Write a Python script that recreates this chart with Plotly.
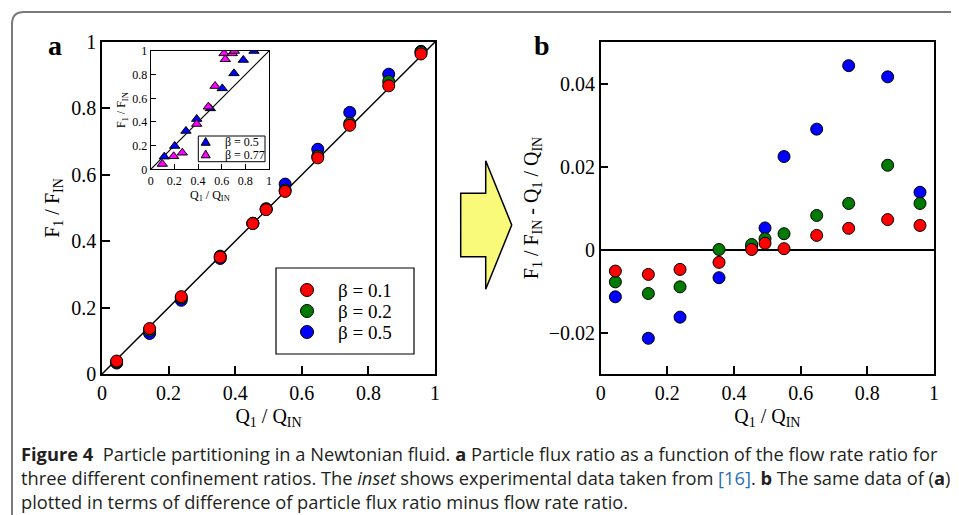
import plotly.graph_objects as go

# The page body has an 8 px default margin, so the figure is sized and placed to fill the window.
OFF = 8
FW, FH = 959 - OFF, 515 - OFF

# ---------------- data ----------------
q_ratio = [0.044, 0.143, 0.238, 0.355, 0.453, 0.493, 0.55, 0.648, 0.744, 0.861, 0.958]

# panel a : particle flux ratio F1/FIN
flux_b01 = [0.039, 0.137, 0.233, 0.352, 0.453, 0.495, 0.550, 0.651, 0.749, 0.868, 0.964]
flux_b02 = [0.036, 0.132, 0.229, 0.355, 0.454, 0.496, 0.554, 0.656, 0.755, 0.881, 0.969]
flux_b05 = [0.033, 0.122, 0.222, 0.348, 0.454, 0.498, 0.572, 0.677, 0.788, 0.903, 0.972]

# panel b : F1/FIN - Q1/QIN
diff_b01 = [-0.0052, -0.0060, -0.0048, -0.0031, 0.0000, 0.0015, 0.0002, 0.0034, 0.0051, 0.0072, 0.0058]
diff_b02 = [-0.0078, -0.0106, -0.0090, 0.0000, 0.0012, 0.0026, 0.0038, 0.0082, 0.0111, 0.0203, 0.0111]
diff_b05 = [-0.0114, -0.0214, -0.0163, -0.0068, 0.0008, 0.0052, 0.0224, 0.0290, 0.0443, 0.0416, 0.0138]

# inset : experimental data
inset_q_05 = [0.115, 0.203, 0.298, 0.389, 0.504, 0.605, 0.704, 0.783, 0.873]
inset_f_05 = [0.107, 0.197, 0.324, 0.425, 0.515, 0.684, 0.811, 0.924, 1.000]
inset_q_077 = [0.098, 0.194, 0.267, 0.389, 0.487, 0.544, 0.620, 0.631, 0.690, 0.707]
inset_f_077 = [0.045, 0.110, 0.140, 0.383, 0.529, 0.704, 0.980, 0.930, 0.980, 1.000]

diag = [0, 1]

ticks_unit = [0, 0.2, 0.4, 0.6, 0.8, 1]
ticks_unit_text = ["0", "0.2", "0.4", "0.6", "0.8", "1"]
ticks_diff = [-0.02, 0, 0.02, 0.04]
ticks_diff_text = ["\u22120.02", "0", "0.02", "0.04"]

names = ["\u03b2 = 0.5", "\u03b2 = 0.2", "\u03b2 = 0.1"]
colors = ["#0000FF", "#007A00", "#FF0000"]
flux_series = [flux_b05, flux_b02, flux_b01]
diff_series = [diff_b05, diff_b02, diff_b01]

inset_names = ["\u03b2 = 0.5", "\u03b2 = 0.77"]
inset_colors = ["#0000FF", "#FF00FF"]

SERIF = "Liberation Serif, Times New Roman, serif"


def fx(p):
    return (p - OFF) / FW


def fy(p):
    return 1 - (p - OFF) / FH


fig = go.Figure()

# ---------------- panel a ----------------
fig.add_trace(go.Scatter(x=diag, y=diag, mode="lines", line=dict(color="black", width=1.5),
                         showlegend=False, hoverinfo="skip", xaxis="x", yaxis="y"))
for nm, c, ys in zip(names, colors, flux_series):
    fig.add_trace(go.Scatter(x=q_ratio, y=ys, mode="markers", name=nm, showlegend=False,
                             marker=dict(size=12, color=c, line=dict(color="black", width=1)),
                             xaxis="x", yaxis="y"))

# ---------------- inset ----------------
fig.add_trace(go.Scatter(x=diag, y=diag, mode="lines", line=dict(color="black", width=1.2),
                         showlegend=False, hoverinfo="skip", xaxis="x2", yaxis="y2"))
for nm, c, xs, ys in zip(inset_names, inset_colors, [inset_q_05, inset_q_077], [inset_f_05, inset_f_077]):
    fig.add_trace(go.Scatter(x=xs, y=ys, mode="markers", name=nm, showlegend=False,
                             marker=dict(symbol="triangle-up", size=9, color=c,
                                         line=dict(color="black", width=1)),
                             xaxis="x2", yaxis="y2"))

# ---------------- panel b ----------------
for nm, c, ys in zip(names, colors, diff_series):
    fig.add_trace(go.Scatter(x=q_ratio, y=ys, mode="markers", name=nm, showlegend=False,
                             marker=dict(size=12, color=c, line=dict(color="black", width=1)),
                             xaxis="x3", yaxis="y3"))


def ax(**kw):
    base = dict(showline=True, linecolor="black", linewidth=1.5, mirror=True,
                ticks="inside", ticklen=8, tickwidth=1.5, tickcolor="black",
                showgrid=False, zeroline=False, automargin=False,
                tickfont=dict(family=SERIF, size=20, color="black"))
    base.update(kw)
    return base


fig.update_layout(
    width=FW, height=FH,
    margin=dict(l=0, r=0, t=0, b=0, pad=0),
    paper_bgcolor="white", plot_bgcolor="white",
    font=dict(family=SERIF, color="black"),
    showlegend=False,
    xaxis=ax(domain=[fx(102), fx(435)], range=[0, 1], tickvals=ticks_unit, ticktext=ticks_unit_text,
             anchor="y",
             title=dict(text="Q<sub>1</sub> / Q<sub>IN</sub>", font=dict(family=SERIF, size=20), standoff=6)),
    yaxis=ax(domain=[fy(374), fy(42)], range=[0, 1], tickvals=ticks_unit, ticktext=ticks_unit_text,
             anchor="x",
             title=dict(text="F<sub>1</sub> / F<sub>IN</sub>", font=dict(family=SERIF, size=20), standoff=6)),
    xaxis2=ax(domain=[fx(150.7), fx(269)], range=[0, 1], tickvals=ticks_unit, ticktext=ticks_unit_text,
              anchor="y2", ticklen=5, tickwidth=1, linewidth=1.2,
              tickfont=dict(family=SERIF, size=12, color="black"),
              title=dict(text="Q<sub>1</sub> / Q<sub>IN</sub>", font=dict(family=SERIF, size=12), standoff=3)),
    yaxis2=ax(domain=[fy(169.3), fy(51)], range=[0, 1], tickvals=ticks_unit, ticktext=ticks_unit_text,
              anchor="x2", ticklen=5, tickwidth=1, linewidth=1.2,
              tickfont=dict(family=SERIF, size=12, color="black"),
              title=dict(text="F<sub>1</sub> / F<sub>IN</sub>", font=dict(family=SERIF, size=12), standoff=3)),
    xaxis3=ax(domain=[fx(600.7), fx(934)], range=[0, 1], tickvals=ticks_unit, ticktext=ticks_unit_text,
              anchor="y3",
              title=dict(text="Q<sub>1</sub> / Q<sub>IN</sub>", font=dict(family=SERIF, size=20), standoff=6)),
    yaxis3=ax(domain=[fy(374), fy(42)], range=[-0.03, 0.05], tickvals=ticks_diff, ticktext=ticks_diff_text,
              anchor="x3", zeroline=True, zerolinecolor="black", zerolinewidth=1.5,
              title=dict(text="F<sub>1</sub> / F<sub>IN</sub> - Q<sub>1</sub> / Q<sub>IN</sub>",
                         font=dict(family=SERIF, size=20), standoff=5)),
)

# outer rounded frame
frame = (f"M {fx(12)},{fy(515)} L {fx(12)},{fy(24)} "
         f"Q {fx(12)},{fy(12)} {fx(24)},{fy(12)} L 1,{fy(12)}")
fig.add_shape(type="path", path=frame, xref="paper", yref="paper",
              line=dict(color="#7a7a7a", width=2), layer="above")

# yellow block arrow
pts = [(460.7, 193.3), (485.7, 193.3), (485.7, 160.7), (511.7, 225),
       (485.7, 289.3), (485.7, 256.7), (460.7, 256.7)]
arrow = "M " + " L ".join(f"{fx(a)},{fy(b)}" for a, b in pts) + " Z"
fig.add_shape(type="path", path=arrow, xref="paper", yref="paper",
              fillcolor="#FAFA7A", line=dict(color="black", width=1.5))

# ---- key of panel a ----
fig.add_shape(type="rect", xref="paper", yref="paper",
              x0=fx(276), x1=fx(414), y0=fy(354), y1=fy(268),
              fillcolor="white", line=dict(color="black", width=1.2))
key_rows = [290, 311, 332]
for row, nm, c in zip(key_rows, names[::-1], colors[::-1]):
    fig.add_shape(type="circle", xref="paper", yref="paper",
                  xsizemode="pixel", ysizemode="pixel",
                  xanchor=fx(307), yanchor=fy(row), x0=-6.5, x1=6.5, y0=-6.5, y1=6.5,
                  fillcolor=c, line=dict(color="black", width=1))
    fig.add_annotation(x=fx(336), y=fy(row), xref="paper", yref="paper", text=nm,
                       showarrow=False, xanchor="left", yanchor="middle",
                       font=dict(family=SERIF, size=19, color="black"))

# ---- key of inset ----
fig.add_shape(type="rect", xref="paper", yref="paper",
              x0=fx(198.3), x1=fx(265), y0=fy(161.7), y1=fy(136),
              fillcolor="white", line=dict(color="black", width=1))
inset_rows = [142, 154.5]
for row, nm, c in zip(inset_rows, inset_names, inset_colors):
    fig.add_shape(type="path", xref="paper", yref="paper",
                  xsizemode="pixel", ysizemode="pixel",
                  xanchor=fx(205.7), yanchor=fy(row),
                  path="M -4.5,-3.3 L 4.5,-3.3 L 0,4.5 Z",
                  fillcolor=c, line=dict(color="black", width=1))
    fig.add_annotation(x=fx(222.5), y=fy(row), xref="paper", yref="paper", text=nm,
                       showarrow=False, xanchor="left", yanchor="middle",
                       font=dict(family=SERIF, size=12, color="black"))

# panel letters
for letter, lx in (("a", 55), ("b", 542)):
    fig.add_annotation(x=fx(lx), y=fy(45), xref="paper", yref="paper", text=f"<b>{letter}</b>",
                       showarrow=False, xanchor="center", yanchor="middle",
                       font=dict(family=SERIF, size=28, color="black"))

# caption (one block, three lines)
CAP = "Open Sans, Noto Sans, sans-serif"
cap_lines = [
    "<b>Figure 4</b>  Particle partitioning in a Newtonian fluid. <b>a</b> Particle flux ratio as a function of the flow rate ratio for",
    "three different confinement ratios. The <i>inset</i> shows experimental data taken from "
    "<span style='color:#2A6EBB'>[16]</span>. <b>b</b> The same data of (<b>a</b>)",
    "plotted in terms of difference of particle flux ratio minus flow rate ratio.",
]
fig.add_annotation(x=fx(19), y=fy(477.5), xref="paper", yref="paper", text="<br>".join(cap_lines),
                   showarrow=False, xanchor="left", yanchor="middle", align="left",
                   font=dict(family=CAP, size=18.3, color="#231F20"))

fig.write_html("out.html")
